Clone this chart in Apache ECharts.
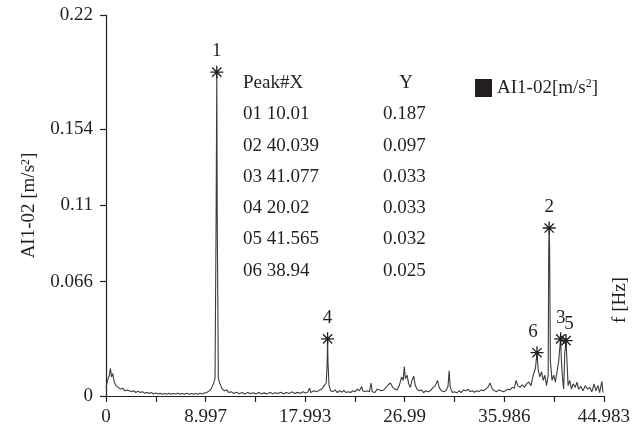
<!DOCTYPE html>
<html>
<head>
<meta charset="utf-8">
<script src="https://cdn.jsdelivr.net/npm/echarts@6/dist/echarts.min.js"></script>
<style>
  html, body { margin: 0; padding: 0; background: #fff; }
  #chart { width: 633px; height: 438px; }
</style>
</head>
<body>
<div id="chart"></div>
<script>
// Frequency spectrum of channel AI1-02, f in Hz, amplitude in m/s^2
const freq = [
  0, 0.15, 0.3, 0.4, 0.5, 0.6, 0.75, 0.9, 1.1, 1.3, 1.5, 1.7, 1.9, 2.1, 2.3, 2.5, 2.7, 2.9,
  3.1, 3.3, 3.5, 3.7, 3.9, 4.1, 4.3, 4.5, 4.7, 4.9, 5.1, 5.3, 5.5, 5.7, 5.9, 6.1, 6.3, 6.5,
  6.7, 6.9, 7.1, 7.3, 7.5, 7.7, 7.9, 8.1, 8.3, 8.5, 8.7, 8.9, 9.1, 9.3, 9.5, 9.7, 9.85,
  9.95, 10.01, 10.05, 10.15, 10.3, 10.5, 10.7, 10.9, 11.1, 11.3, 11.55, 11.8, 12.05, 12.3,
  12.55, 12.8, 13.05, 13.3, 13.55, 13.8, 14.05, 14.3, 14.55, 14.8, 15.05, 15.3, 15.55, 15.8,
  16.05, 16.3, 16.55, 16.8, 17.05, 17.3, 17.55, 17.8, 18.0, 18.2, 18.4, 18.5, 18.8, 19.0,
  19.2, 19.5, 19.7, 19.9, 19.98, 20.02, 20.06, 20.15, 20.3, 20.5, 20.7, 20.9, 21.1, 21.3,
  21.5, 21.7, 21.9, 22.1, 22.3, 22.5, 22.7, 22.9, 23.1, 23.2, 23.4, 23.6, 23.8, 23.95, 24.05,
  24.3, 24.5, 24.7, 24.9, 25.1, 25.3, 25.5, 25.7, 25.9, 26.1, 26.3, 26.5, 26.7, 26.85, 26.95,
  27.05, 27.2, 27.35, 27.5, 27.65, 27.8, 27.95, 28.1, 28.3, 28.5, 28.7, 28.9, 29.1, 29.3,
  29.5, 29.75, 29.95, 30.1, 30.3, 30.5, 30.7, 30.9, 31.0, 31.1, 31.3, 31.5, 31.7, 31.9, 32.1,
  32.3, 32.5, 32.7, 32.9, 33.1, 33.3, 33.5, 33.7, 33.9, 34.1, 34.3, 34.5, 34.7, 34.9, 35.1,
  35.3, 35.5, 35.7, 35.9, 36.1, 36.3, 36.5, 36.7, 36.9, 37.05, 37.2, 37.4, 37.6, 37.8, 38.0,
  38.2, 38.4, 38.6, 38.8, 38.94, 39.05, 39.2, 39.35, 39.5, 39.65, 39.8, 39.95, 40.0, 40.039,
  40.08, 40.15, 40.3, 40.45, 40.6, 40.75, 40.9, 41.0, 41.077, 41.15, 41.25, 41.35, 41.45,
  41.565, 41.65, 41.75, 41.9, 42.05, 42.2, 42.4, 42.55, 42.7, 42.9, 43.1, 43.3, 43.5, 43.7,
  43.9, 44.1, 44.25, 44.45, 44.6, 44.8, 44.9
];
const amp = [
  0.005, 0.009, 0.012, 0.016, 0.011, 0.013, 0.008, 0.006, 0.005, 0.004, 0.0045, 0.003, 0.0035, 0.003, 0.0025, 0.003, 0.002, 0.0028,
  0.002, 0.0025, 0.0015, 0.0022, 0.0015, 0.002, 0.0012, 0.0018, 0.0012, 0.0016, 0.001, 0.0015, 0.001, 0.0016, 0.001, 0.0015, 0.0011, 0.0016,
  0.001, 0.0015, 0.001, 0.0016, 0.001, 0.0014, 0.001, 0.0015, 0.001, 0.0016, 0.0012, 0.0018, 0.002, 0.0028, 0.004, 0.007, 0.010,
  0.104, 0.187, 0.104, 0.010, 0.007, 0.004, 0.003, 0.0035, 0.002, 0.0025, 0.0014, 0.0022, 0.0013, 0.002,
  0.0012, 0.0021, 0.0013, 0.0019, 0.0012, 0.002, 0.0013, 0.0018, 0.0012, 0.0021, 0.0013, 0.0019, 0.0014, 0.0022,
  0.0013, 0.002, 0.0014, 0.0024, 0.0015, 0.0021, 0.0016, 0.0025, 0.0018, 0.002, 0.0045, 0.002, 0.003, 0.0025,
  0.003, 0.004, 0.006, 0.0075, 0.019, 0.033, 0.019, 0.006, 0.003, 0.0025, 0.0035, 0.002, 0.003, 0.0022,
  0.0032, 0.002, 0.0025, 0.002, 0.003, 0.0025, 0.004, 0.003, 0.0055, 0.003, 0.0025, 0.003, 0.0025, 0.0075, 0.0025,
  0.002, 0.004, 0.0035, 0.003, 0.0035, 0.005, 0.0065, 0.0075, 0.005, 0.004, 0.0035, 0.006, 0.011, 0.009, 0.017,
  0.010, 0.012, 0.007, 0.005, 0.009, 0.0115, 0.006, 0.004, 0.003, 0.0035, 0.002, 0.003, 0.0025, 0.003,
  0.0045, 0.006, 0.009, 0.005, 0.003, 0.0025, 0.003, 0.0055, 0.0145, 0.005, 0.002, 0.0025, 0.0018, 0.003, 0.002,
  0.0035, 0.003, 0.004, 0.0025, 0.003, 0.0022, 0.003, 0.0025, 0.0035, 0.003, 0.004, 0.005, 0.0075, 0.004, 0.003,
  0.0025, 0.0035, 0.003, 0.0025, 0.003, 0.004, 0.0035, 0.005, 0.0045, 0.009, 0.006, 0.005, 0.0065, 0.005, 0.007,
  0.008, 0.006, 0.012, 0.016, 0.025, 0.015, 0.011, 0.014, 0.009, 0.012, 0.006, 0.012, 0.085, 0.097,
  0.085, 0.02, 0.009, 0.012, 0.008, 0.014, 0.02, 0.028, 0.033, 0.02, 0.01, 0.004, 0.025,
  0.032, 0.02, 0.006, 0.009, 0.004, 0.007, 0.005, 0.008, 0.004, 0.0055, 0.003, 0.006, 0.004, 0.005,
  0.0025, 0.007, 0.003, 0.006, 0.002, 0.0085, 0.002
];

// Picked peaks (table order)
const peakIds = ['01', '02', '03', '04', '05', '06'];
const peakX = [10.01, 40.039, 41.077, 20.02, 41.565, 38.94];
const peakY = [0.187, 0.097, 0.033, 0.033, 0.032, 0.025];

// Axis ticks and labels
const xTickValues = [0, 4.4985, 8.997, 13.495, 17.993, 22.4915, 26.99, 31.488, 35.986, 40.4845, 44.983];
const xLabelValues = [0, 8.997, 17.993, 26.99, 35.986, 44.983];
const yLabelValues = [0, 0.066, 0.11, 0.154, 0.22];

const seriesName = 'AI1-02[m/s2]';
const ink = '#231f20';
const font = '"Liberation Serif", "DejaVu Serif", serif';
const fs = 19;

// Raised "2" in the unit strings
const supStyle = { fontFamily: font, fontSize: 12, color: ink, verticalAlign: 'top', lineHeight: 12, padding: [0, 0, 8, 0] };

const lineData = freq.map((f, i) => [f, amp[i]]);
const peakData = peakX.map((x, i) => {
  const item = { value: [x, peakY[i]], name: String(i + 1) };
  if (i === 4) item.label = { offset: [3, 4] };
  if (i === 5) item.label = { offset: [-4, 0] };
  return item;
});

// Peak table drawn as text
const tableTop = 83, rowGap = 31.3;
const txt = (x, y, text, align) => ({
  type: 'text', x: x, y: y,
  style: { text: text, font: fs + 'px ' + font, fill: ink, textAlign: align, textVerticalAlign: 'middle' }
});
const tableTexts = [txt(243, tableTop, 'Peak#X', 'left'), txt(406, tableTop, 'Y', 'center')];
peakIds.forEach((id, i) => {
  const y = tableTop + rowGap * (i + 1);
  tableTexts.push(txt(243, y, id + ' ' + String(peakX[i]), 'left'));
  tableTexts.push(txt(383, y, String(peakY[i]), 'left'));
});
const fLabel = txt(620, 300, 'f [Hz]', 'center');
fLabel.rotation = Math.PI / 2;
tableTexts.push(fLabel);

const asterisk = 'path://M6,0L6,12M0,6L12,6M1.76,1.76L10.24,10.24M1.76,10.24L10.24,1.76';

const chart = echarts.init(document.getElementById('chart'), null, { renderer: 'canvas' });
chart.setOption({
  animation: false,
  backgroundColor: '#fff',
  textStyle: { fontFamily: font, color: ink },
  grid: { left: 106, right: 28, top: 15, bottom: 42 },
  legend: {
    left: 470, top: 73,
    icon: 'rect', itemWidth: 17, itemHeight: 18,
    data: [{ name: seriesName, itemStyle: { color: ink } }],
    formatter: () => 'AI1-02[m/s{sup|2}]',
    textStyle: { fontFamily: font, fontSize: fs, lineHeight: 20, color: ink, rich: { sup: supStyle } }
  },
  xAxis: {
    type: 'value', min: 0, max: 44.983,
    axisLine: { show: true, lineStyle: { color: ink, width: 1.2 } },
    axisTick: { show: true, length: 6, customValues: xTickValues, lineStyle: { color: ink, width: 1.2 } },
    axisLabel: { customValues: xLabelValues, formatter: v => String(v), fontFamily: font, fontSize: fs, color: ink, margin: 12 },
    splitLine: { show: false }
  },
  yAxis: {
    type: 'value', min: 0, max: 0.22,
    name: 'AI1-02 [m/s{sup|2}]',
    nameLocation: 'middle', nameGap: 64, nameRotate: 90,
    nameTextStyle: { fontFamily: font, fontSize: fs, lineHeight: 20, color: ink, rich: { sup: supStyle } },
    axisLine: { show: true, lineStyle: { color: ink, width: 1.2 } },
    axisTick: { show: true, length: 6, customValues: yLabelValues, lineStyle: { color: ink, width: 1.2 } },
    axisLabel: { customValues: yLabelValues, formatter: v => String(v), fontFamily: font, fontSize: fs, color: ink, margin: 13 },
    splitLine: { show: false }
  },
  series: [
    {
      name: seriesName, type: 'line', data: lineData,
      showSymbol: false, symbol: 'none',
      lineStyle: { color: '#3c3c3c', width: 1.1 },
      itemStyle: { color: ink },
      z: 2
    },
    {
      name: 'peaks', type: 'scatter', data: peakData,
      symbol: asterisk, symbolSize: 13,
      itemStyle: { color: 'rgba(0,0,0,0)', borderColor: ink, borderWidth: 1.3, opacity: 1 },
      label: {
        show: true, position: 'top', distance: 4,
        formatter: p => p.name,
        fontFamily: font, fontSize: fs, color: ink, textBorderWidth: 0, opacity: 1
      },
      z: 5
    }
  ],
  graphic: tableTexts
});
</script>
</body>
</html>
